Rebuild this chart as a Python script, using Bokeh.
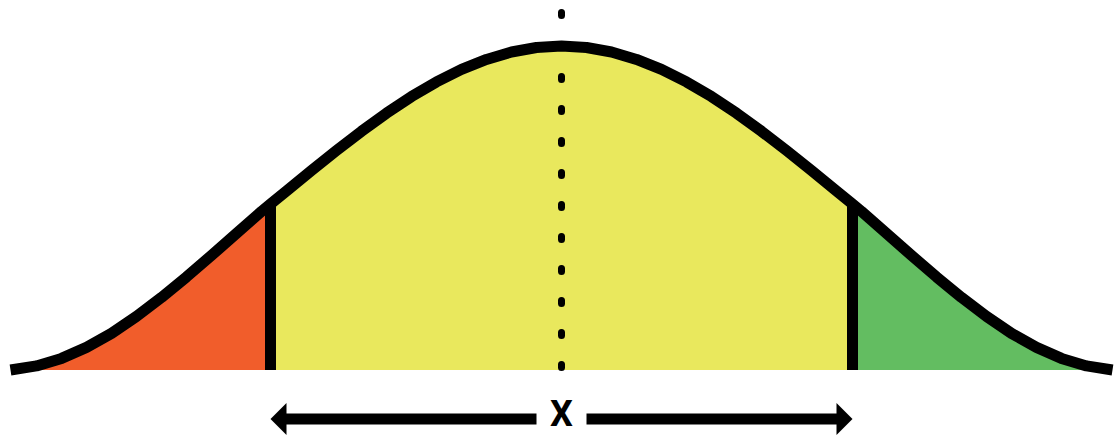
import numpy as np
from bokeh.plotting import figure
from bokeh.models import Range1d
from bokeh.embed import file_html
from bokeh.resources import INLINE
from bokeh.core.properties import value

# ---- data ----
# bell curve: horizontal offset from the mean and curve height
offsets = [-551, -525, -500, -475, -450, -425, -400, -375, -350, -325, -300, -291,
           -275, -250, -225, -200, -175, -150, -125, -100, -75, -50, -25, 0,
           25, 50, 75, 100, 125, 150, 175, 200, 225, 250, 275, 291,
           300, 325, 350, 375, 400, 425, 450, 475, 500, 525, 551]
heights = [0.0, 4.1, 11.6, 22.6, 36.6, 53.6, 72.6, 93.1, 114.6, 136.6, 158.6, 166.0,
           179.1, 199.5, 219.5, 238.7, 256.8, 273.4, 288.1, 300.6, 310.6, 318.0, 322.5, 324.0,
           322.5, 318.0, 310.6, 300.6, 288.1, 273.4, 256.8, 238.7, 219.5, 199.5, 179.1, 166.0,
           158.6, 136.6, 114.6, 93.1, 72.6, 53.6, 36.6, 22.6, 11.6, 4.1, 0.0]
mean = 0
lower_bound = -291
upper_bound = 291
guide_top = 357.5          # top of the dotted mean line
arrow_level = -49.0        # level of the X arrow below the baseline
label_level = -44.0
label = "X"

# ---- styles ----
RED = "#F15D2B"
YELLOW = "#E9E85D"
GREEN = "#63BD61"
BLACK = "#000000"

x = np.array(offsets, dtype=float)
y = np.array(heights, dtype=float)

p = figure(width=1115, height=437, output_backend="svg", toolbar_location=None,
           x_axis_type=None, y_axis_type=None,
           x_range=Range1d(-561, 554), y_range=Range1d(-67.5, 369.5),
           min_border=0, min_border_left=0, min_border_right=0,
           min_border_top=0, min_border_bottom=0)
p.grid.visible = False
p.outline_line_color = None
p.background_fill_color = "white"
p.border_fill_color = "white"

left = x <= lower_bound
mid = (x >= lower_bound) & (x <= upper_bound)
right = x >= upper_bound

p.varea(x=x[left], y1=0, y2=y[left], fill_color=RED)
p.varea(x=x[mid], y1=0, y2=y[mid], fill_color=YELLOW)
p.varea(x=x[right], y1=0, y2=y[right], fill_color=GREEN)

# dotted mean line
p.segment(x0=[mean], y0=[guide_top], x1=[mean], y1=[0], line_color=BLACK,
          line_width=7, line_cap="round", line_dash="3 29")

# boundary lines
h_lo = float(y[x == lower_bound][0])
h_hi = float(y[x == upper_bound][0])
p.segment(x0=[lower_bound, upper_bound], y0=[0, 0],
          x1=[lower_bound, upper_bound], y1=[h_lo, h_hi],
          line_color=BLACK, line_width=11, line_cap="butt")

# curve
p.line(x, y, line_color=BLACK, line_width=11, line_join="round", line_cap="butt")

# arrow with label
head_len = 16
head_half = 16
gap = 25
p.segment(x0=[lower_bound + head_len - 4, mean + gap],
          y0=[arrow_level, arrow_level],
          x1=[mean - gap, upper_bound - head_len + 4],
          y1=[arrow_level, arrow_level],
          line_color=BLACK, line_width=11, line_cap="butt")
p.patches(xs=[[lower_bound, lower_bound + head_len, lower_bound + head_len],
              [upper_bound, upper_bound - head_len, upper_bound - head_len]],
          ys=[[arrow_level, arrow_level + head_half, arrow_level - head_half],
              [arrow_level, arrow_level + head_half, arrow_level - head_half]],
          fill_color=BLACK, line_color=None)
p.text(x=[mean], y=[label_level], text=[label], text_font=value("Roboto"),
       text_font_style="bold", text_font_size="36px", text_align="center",
       text_baseline="middle", text_color=BLACK)

open("out.html", "w").write(file_html(p, INLINE))
